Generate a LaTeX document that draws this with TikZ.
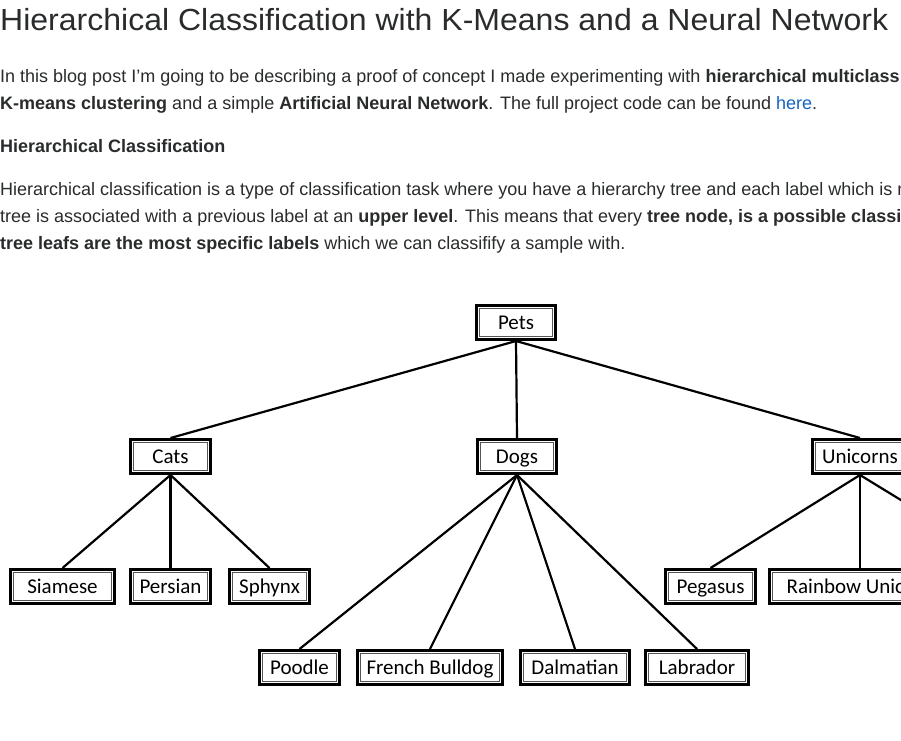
\documentclass[tikz,border=0pt]{standalone}
\usepackage{fontspec}
\usepackage{graphicx}
\usetikzlibrary{calc}
\setmainfont{Liberation Sans}
\newfontfamily\boxfont{Carlito}
\definecolor{txt}{HTML}{292B2C}
\definecolor{linkc}{HTML}{1565C0}
\definecolor{innergray}{HTML}{555555}
\begin{document}
\begin{tikzpicture}[x=1pt,y=-1pt,
  pbox/.style={draw=black,line width=3pt,fill=white,minimum height=34pt,inner sep=0pt,
    text height=13.5pt,text depth=0pt,
    font=\boxfont\fontsize{21}{25}\selectfont,
    path picture={
      \draw[draw=innergray,line width=1pt]
        ([xshift=3.3pt,yshift=-3.3pt]path picture bounding box.north west)
        rectangle ([xshift=-3.3pt,yshift=3.3pt]path picture bounding box.south east);
    }},
  treeline/.style={draw=black,line width=2.2pt},
  bodytext/.style={anchor=base west,inner sep=0pt,text=txt,font=\fontsize{18}{22}\selectfont}]
\useasboundingbox (0,0) rectangle (901,740);
\clip (0,0) rectangle (901,740);
\fill[white] (0,0) rectangle (901,740);

% text
\node[anchor=base west,inner sep=0pt,text=txt,font=\fontsize{30.5}{36}\selectfont] (title) at (0,30)
  {\resizebox{888pt}{\height}{Hierarchical Classification with K-Means and a Neural Network}};
\node[bodytext] (l1) at (0,82) {In this blog post I’m going to be describing a proof of concept I made experimenting with \textbf{hierarchical multiclass}};
\node[bodytext] (l2) at (0,109) {\textbf{K-means clustering} and a simple \textbf{Artificial Neural Network}. The full project code can be found {\color{linkc}here}.};
\node[bodytext] (h2) at (0,152) {\textbf{Hierarchical Classification}};
\node[bodytext] (p1) at (0,195) {Hierarchical classification is a type of classification task where you have a hierarchy tree and each label which is n};
\node[bodytext] (p2) at (0,222) {tree is associated with a previous label at an \textbf{upper level}. This means that every \textbf{tree node, is a possible classif}};
\node[bodytext] (p3) at (0,249) {\textbf{tree leafs are the most specific labels} which we can classifify a sample with.};

% tree nodes
\node[pbox,minimum width=79pt] (pets) at (516,322.5) {Pets};
\node[pbox,minimum width=80pt] (cats) at (170.5,456.5) {Cats};
\node[pbox,minimum width=79pt] (dogs) at (517,456.5) {Dogs};
\node[pbox,minimum width=95pt] (unicorns) at (860,456.5) {Unicorns};
\node[pbox,minimum width=104pt] (siamese) at (62.5,586.5) {Siamese};
\node[pbox,minimum width=80pt] (persian) at (170.5,586.5) {Persian};
\node[pbox,minimum width=80pt] (sphynx) at (269.5,586.5) {Sphynx};
\node[pbox,minimum width=90pt] (pegasus) at (710.5,586.5) {Pegasus};
\node[pbox,minimum width=181pt] (rainbow) at (860,586.5) {Rainbow Unicorn};
\node[pbox,minimum width=80pt] (poodle) at (299.5,667.5) {Poodle};
\node[pbox,minimum width=145pt] (bulldog) at (430,667.5) {French Bulldog};
\node[pbox,minimum width=109pt] (dalmatian) at (575,667.5) {Dalmatian};
\node[pbox,minimum width=103pt] (labrador) at (697,667.5) {Labrador};
\coordinate (third) at (1012,568);

% edges
\draw[treeline] (pets.south) -- (cats.north);
\draw[treeline] (pets.south) -- (dogs.north);
\draw[treeline] (pets.south) -- (unicorns.north);
\draw[treeline] (cats.south) -- (siamese.north);
\draw[treeline] (cats.south) -- (persian.north);
\draw[treeline] (cats.south) -- (sphynx.north);
\draw[treeline] (dogs.south) -- (poodle.north);
\draw[treeline] (dogs.south) -- (bulldog.north);
\draw[treeline] (dogs.south) -- (dalmatian.north);
\draw[treeline] (dogs.south) -- (labrador.north);
\draw[treeline] (unicorns.south) -- (pegasus.north);
\draw[treeline] (unicorns.south) -- (rainbow.north);
\draw[treeline] (unicorns.south) -- (third);
\end{tikzpicture}
\end{document}
